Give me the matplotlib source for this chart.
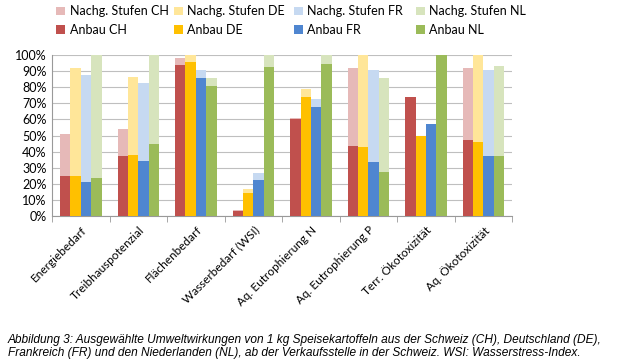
import numpy as np
import matplotlib.pyplot as plt
from matplotlib.ticker import PercentFormatter

# categories and values (share of the maximum, in %)
categories = ['Energiebedarf', 'Treibhauspotenzial', 'Flächenbedarf', 'Wasserbedarf (WSI)',
              'Aq. Eutrophierung N', 'Aq. Eutrophierung P', 'Terr. Ökotoxizität', 'Aq. Ökotoxizität']
countries = ['CH', 'DE', 'FR', 'NL']

anbau_ch = [25, 37, 94, 3, 60, 43.5, 74, 47]
anbau_de = [25, 38, 95.5, 14, 74, 43, 50, 46]
anbau_fr = [21, 34.5, 86, 22.5, 68, 33.5, 57.5, 37.5]
anbau_nl = [23.5, 44.5, 81, 92.5, 94.5, 27.5, 100, 37]

total_ch = [51, 54, 98, 4, 61, 92, 74, 92]
total_de = [92, 86.5, 100, 16.5, 79, 100, 50, 100]
total_fr = [87.5, 83, 90.5, 26.5, 72.5, 90.5, 57.5, 91]
total_nl = [100, 100, 86, 100, 100, 86, 100, 93]

anbau = [anbau_ch, anbau_de, anbau_fr, anbau_nl]
total = [total_ch, total_de, total_fr, total_nl]
dark = ['#C0504D', '#FFC000', '#4F86D0', '#9BBB59']
light = ['#E6B9B8', '#FFE699', '#C6D9F1', '#D7E4BD']

plt.rcParams['font.family'] = ['Lato', 'DejaVu Sans']
fig = plt.figure(figsize=(6.2, 3.63), dpi=100)
ax = fig.add_axes([0.084, 0.405, 0.742, 0.443])

x = np.arange(len(categories))
w = 0.18
legend_x = [0.091, 0.281, 0.474, 0.671]
for i, c in enumerate(countries):
    a = np.array(anbau[i])
    t = np.array(total[i])
    pos = x + (i - 1.5) * w
    hb = ax.bar(pos, a, w, color=dark[i], label='Anbau ' + c, zorder=3)
    ht = ax.bar(pos, t - a, w, bottom=a, color=light[i], label='Nachg. Stufen ' + c, zorder=3)
    fig.legend(handles=[ht, hb], loc='upper left', bbox_to_anchor=(legend_x[i], 0.985),
               frameon=False, fontsize=9, borderpad=0, borderaxespad=0,
               handlelength=0.7, handleheight=0.7, handletextpad=0.35, labelspacing=0.5)

ax.set_ylim(0, 100)
ax.set_xlim(-0.5, len(categories) - 0.5)
ax.set_yticks(np.arange(0, 101, 10))
ax.yaxis.set_major_formatter(PercentFormatter(decimals=0))
ax.grid(axis='y', color='#BFBFBF', linewidth=0.8, zorder=0)
ax.set_xticks(x)
ax.set_xticklabels(categories, rotation=45, ha='right', rotation_mode='anchor', fontsize=8.5)
ax.set_xticks(np.arange(-0.5, len(categories)), minor=True)
ax.tick_params(axis='x', which='major', length=0, pad=6)
ax.tick_params(axis='x', which='minor', length=4, color='#999999')
ax.tick_params(axis='y', length=0, labelsize=9, pad=4)
for s in ['top', 'right']:
    ax.spines[s].set_visible(False)
for s in ['left', 'bottom']:
    ax.spines[s].set_color('#999999')

fig.text(0.013, 0.045, 'Abbildung 3: Ausgewählte Umweltwirkungen von 1 kg Speisekartoffeln aus der Schweiz (CH), Deutschland (DE),\n'
         'Frankreich (FR) und den Niederlanden (NL), ab der Verkaufsstelle in der Schweiz. WSI: Wasserstress-Index.',
         family='Liberation Sans', style='italic', fontsize=8.6, va='center', linespacing=1.1)

fig.savefig('out.png', dpi=100)
